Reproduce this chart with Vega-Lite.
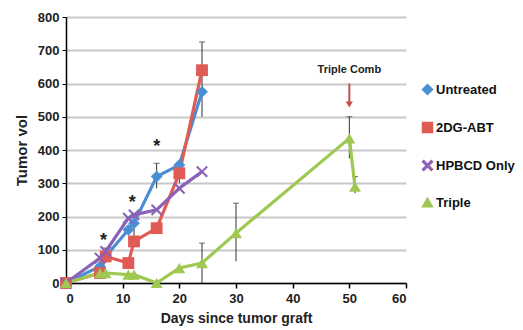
{
  "$schema": "https://vega.github.io/schema/vega-lite/v6.json",
  "width": 340,
  "height": 266,
  "autosize": "none",
  "padding": {"left": 66, "top": 17, "right": 117, "bottom": 47},
  "background": "white",
  "config": {
    "view": {"stroke": null},
    "font": "Liberation Sans, sans-serif",
    "axis": {"labelFont": "Liberation Sans, sans-serif", "titleFont": "Liberation Sans, sans-serif", "labelFontWeight": "bold", "titleFontWeight": "bold", "labelColor": "#222", "titleColor": "#222", "labelOverlap": false},
    "axisY": {"labelOverlap": false, "labelSeparation": 0}
  },
  "datasets": {
    "series": [
      {"series": "Untreated", "day": 0, "vol": 0},
      {"series": "Untreated", "day": 6, "vol": 50},
      {"series": "Untreated", "day": 7, "vol": 80},
      {"series": "Untreated", "day": 11, "vol": 160},
      {"series": "Untreated", "day": 12, "vol": 180},
      {"series": "Untreated", "day": 16, "vol": 320},
      {"series": "Untreated", "day": 20, "vol": 355},
      {"series": "Untreated", "day": 24, "vol": 575},
      {"series": "2DG-ABT", "day": 0, "vol": 0},
      {"series": "2DG-ABT", "day": 6, "vol": 30},
      {"series": "2DG-ABT", "day": 7, "vol": 80},
      {"series": "2DG-ABT", "day": 11, "vol": 60},
      {"series": "2DG-ABT", "day": 12, "vol": 125},
      {"series": "2DG-ABT", "day": 16, "vol": 165},
      {"series": "2DG-ABT", "day": 20, "vol": 330},
      {"series": "2DG-ABT", "day": 24, "vol": 640},
      {"series": "HPBCD Only", "day": 0, "vol": 0},
      {"series": "HPBCD Only", "day": 6, "vol": 75},
      {"series": "HPBCD Only", "day": 7, "vol": 95},
      {"series": "HPBCD Only", "day": 11, "vol": 195},
      {"series": "HPBCD Only", "day": 12, "vol": 205},
      {"series": "HPBCD Only", "day": 16, "vol": 220},
      {"series": "HPBCD Only", "day": 20, "vol": 285},
      {"series": "HPBCD Only", "day": 24, "vol": 335},
      {"series": "Triple", "day": 0, "vol": 0},
      {"series": "Triple", "day": 6, "vol": 30},
      {"series": "Triple", "day": 7, "vol": 30},
      {"series": "Triple", "day": 11, "vol": 25},
      {"series": "Triple", "day": 12, "vol": 25},
      {"series": "Triple", "day": 16, "vol": 0},
      {"series": "Triple", "day": 20, "vol": 45},
      {"series": "Triple", "day": 24, "vol": 60},
      {"series": "Triple", "day": 30, "vol": 150},
      {"series": "Triple", "day": 50, "vol": 435},
      {"series": "Triple", "day": 51, "vol": 290}
    ],
    "errors": [
      {"day": 7, "lo": 60, "hi": 105},
      {"day": 12, "lo": 110, "hi": 200},
      {"day": 16, "lo": 285, "hi": 360},
      {"day": 20, "lo": 300, "hi": 360},
      {"day": 24, "lo": 500, "hi": 725},
      {"day": 24, "lo": 0, "hi": 120},
      {"day": 30, "lo": 65, "hi": 240},
      {"day": 50, "lo": 375, "hi": 500},
      {"day": 51, "lo": 270, "hi": 320}
    ],
    "stars": [
      {"day": 6.6, "vol": 125, "label": "*"},
      {"day": 11.7, "vol": 240, "label": "*"},
      {"day": 16, "vol": 408, "label": "*"}
    ]
  },
  "encoding": {
    "x": {
      "field": "day", "type": "quantitative",
      "scale": {"domain": [0, 60], "nice": false},
      "axis": {"values": [0, 10, 20, 30, 40, 50, 60], "grid": false, "domainColor": "black", "domainWidth": 1.5, "tickColor": "black", "tickSize": 5, "tickWidth": 1.5, "labelFontSize": 13, "labelPadding": 4, "title": "Days since tumor graft", "titleFontSize": 14, "titlePadding": 6}
    }
  },
  "layer": [
    {
      "data": {"name": "errors"},
      "mark": {"type": "rule", "color": "#333", "strokeWidth": 1},
      "encoding": {
        "y": {"field": "lo", "type": "quantitative",
          "scale": {"domain": [0, 800], "nice": false},
          "axis": {"tickCount": 8, "labelOverlap": false, "grid": true, "gridColor": "#c8c8c8", "gridWidth": 2, "domainColor": "black", "domainWidth": 1.5, "tickColor": "black", "tickSize": 4, "labelFontSize": 13, "labelPadding": 3, "title": "Tumor vol", "titleFontSize": 15, "titlePadding": 8}},
        "y2": {"field": "hi"}
      }
    },
    {
      "data": {"name": "errors"},
      "mark": {"type": "tick", "color": "#333", "orient": "horizontal", "size": 6, "thickness": 1},
      "encoding": {
        "y": {"field": "hi", "type": "quantitative"}
      }
    },
    {
      "data": {"name": "series"},
      "mark": {"type": "line", "strokeWidth": 3.2},
      "encoding": {
        "y": {"field": "vol", "type": "quantitative"},
        "color": {"field": "series", "type": "nominal", "scale": {"domain": ["Untreated", "2DG-ABT", "HPBCD Only", "Triple"], "range": ["#4a8fd4", "#e05a56", "#8a62b8", "#9fc853"]},
          "legend": {"orient": "none", "legendX": 355, "legendY": 66, "title": null, "labelFont": "Liberation Sans, sans-serif", "labelFontSize": 13, "labelFontWeight": "bold", "labelColor": "#111", "rowPadding": 21, "symbolSize": 100, "labelOffset": 2}},
        "detail": {"field": "series"}
      }
    },
    {
      "data": {"name": "series"},
      "mark": {"type": "point", "filled": true, "size": 140, "opacity": 1},
      "encoding": {
        "y": {"field": "vol", "type": "quantitative"},
        "color": {"field": "series", "type": "nominal"},
        "shape": {"field": "series", "type": "nominal", "scale": {"domain": ["Untreated", "2DG-ABT", "HPBCD Only", "Triple"], "range": ["diamond", "square", "M-1,-0.75L-0.75,-1L0,-0.25L0.75,-1L1,-0.75L0.25,0L1,0.75L0.75,1L0,0.25L-0.75,1L-1,0.75L-0.25,0Z", "triangle-up"]}}
      }
    },
    {
      "data": {"name": "stars"},
      "mark": {"type": "text", "fontSize": 18, "fontWeight": "bold", "color": "#222", "font": "Liberation Sans"},
      "encoding": {
        "y": {"field": "vol", "type": "quantitative"},
        "text": {"field": "label"}
      }
    },
    {
      "data": {"values": [{"day": 50, "vol": 640, "label": "Triple Comb"}]},
      "mark": {"type": "text", "fontSize": 11, "fontWeight": "bold", "color": "#222", "font": "Liberation Sans, sans-serif"},
      "encoding": {
        "y": {"field": "vol", "type": "quantitative"},
        "text": {"field": "label"}
      }
    },
    {
      "data": {"values": [{"day": 50, "top": 600, "bot": 535}]},
      "mark": {"type": "rule", "color": "#c0504d", "strokeWidth": 2},
      "encoding": {
        "y": {"field": "top", "type": "quantitative"},
        "y2": {"field": "bot"}
      }
    },
    {
      "data": {"values": [{"day": 50, "vol": 537}]},
      "mark": {"type": "point", "shape": "triangle-down", "filled": true, "color": "#c0504d", "size": 50, "opacity": 1},
      "encoding": {
        "y": {"field": "vol", "type": "quantitative"}
      }
    }
  ]
}
